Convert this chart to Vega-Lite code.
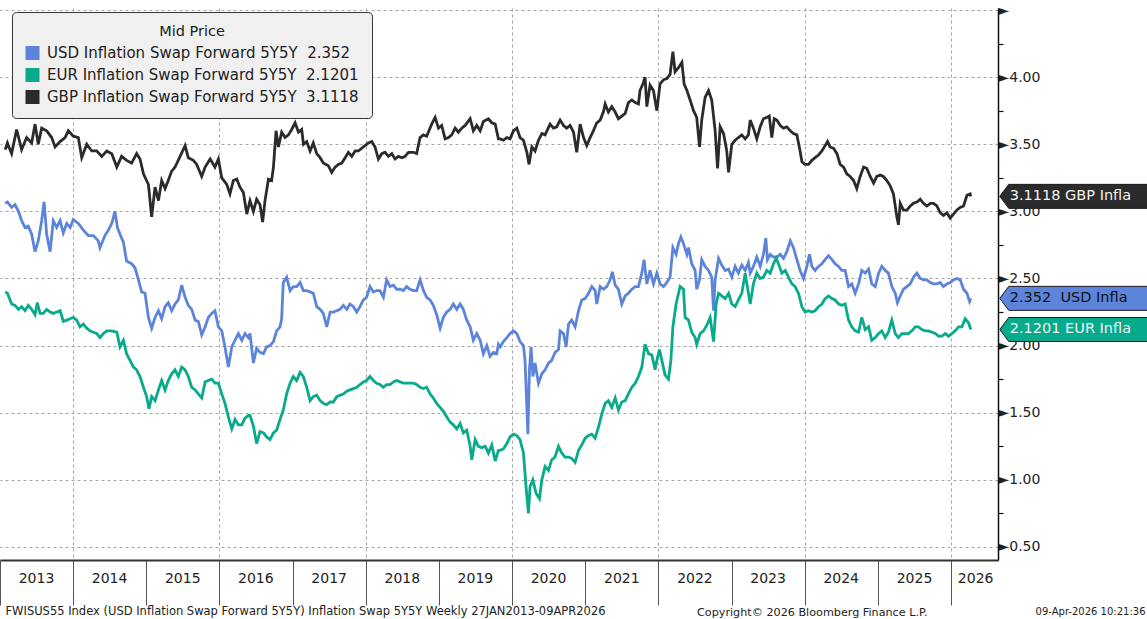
{
"$schema":"https://vega.github.io/schema/vega-lite/v6.json",
"width":998,"height":552,"autosize":"none",
"padding":{"left":0,"top":8,"right":149,"bottom":59},
"background":"white",
"config":{"font":"DejaVu Sans","view":{"stroke":null}},
"title":{"text":"Copyright© 2026 Bloomberg Finance L.P.","orient":"bottom","anchor":"start","frame":"group","dx":697,"dy":-10,"offset":0,"fontSize":11.2,"fontWeight":"normal","color":"#222"},
"data":{"format":{"parse":{"d":"date:'%Y-%j'"}},"values":[
{"d":"2013-027","s":"GBP","v":3.46},{"d":"2013-038","s":"GBP","v":3.51},{"d":"2013-059","s":"GBP","v":3.43},{"d":"2013-084","s":"GBP","v":3.61},{"d":"2013-109","s":"GBP","v":3.46},{"d":"2013-134","s":"GBP","v":3.55},{"d":"2013-159","s":"GBP","v":3.51},{"d":"2013-176","s":"GBP","v":3.65},{"d":"2013-192","s":"GBP","v":3.50},{"d":"2013-209","s":"GBP","v":3.62},{"d":"2013-234","s":"GBP","v":3.60},{"d":"2013-259","s":"GBP","v":3.55},{"d":"2013-276","s":"GBP","v":3.48},{"d":"2013-301","s":"GBP","v":3.52},{"d":"2013-326","s":"GBP","v":3.55},{"d":"2013-342","s":"GBP","v":3.60},
{"d":"2014-002","s":"GBP","v":3.56},{"d":"2014-027","s":"GBP","v":3.55},{"d":"2014-044","s":"GBP","v":3.40},{"d":"2014-069","s":"GBP","v":3.50},{"d":"2014-094","s":"GBP","v":3.45},{"d":"2014-119","s":"GBP","v":3.45},{"d":"2014-144","s":"GBP","v":3.41},{"d":"2014-169","s":"GBP","v":3.45},{"d":"2014-194","s":"GBP","v":3.43},{"d":"2014-219","s":"GBP","v":3.33},{"d":"2014-243","s":"GBP","v":3.41},{"d":"2014-268","s":"GBP","v":3.38},{"d":"2014-293","s":"GBP","v":3.36},{"d":"2014-318","s":"GBP","v":3.43},{"d":"2014-335","s":"GBP","v":3.39},{"d":"2014-352","s":"GBP","v":3.28},
{"d":"2015-012","s":"GBP","v":3.20},{"d":"2015-028","s":"GBP","v":2.96},{"d":"2015-045","s":"GBP","v":3.18},{"d":"2015-062","s":"GBP","v":3.08},{"d":"2015-078","s":"GBP","v":3.23},{"d":"2015-095","s":"GBP","v":3.17},{"d":"2015-111","s":"GBP","v":3.23},{"d":"2015-128","s":"GBP","v":3.30},{"d":"2015-145","s":"GBP","v":3.33},{"d":"2015-170","s":"GBP","v":3.41},{"d":"2015-195","s":"GBP","v":3.49},{"d":"2015-211","s":"GBP","v":3.40},{"d":"2015-236","s":"GBP","v":3.38},{"d":"2015-253","s":"GBP","v":3.35},{"d":"2015-278","s":"GBP","v":3.26},{"d":"2015-295","s":"GBP","v":3.33},{"d":"2015-320","s":"GBP","v":3.39},{"d":"2015-344","s":"GBP","v":3.33},{"d":"2015-361","s":"GBP","v":3.39},
{"d":"2016-013","s":"GBP","v":3.25},{"d":"2016-038","s":"GBP","v":3.20},{"d":"2016-054","s":"GBP","v":3.13},{"d":"2016-071","s":"GBP","v":3.23},{"d":"2016-088","s":"GBP","v":3.24},{"d":"2016-104","s":"GBP","v":3.18},{"d":"2016-121","s":"GBP","v":3.14},{"d":"2016-138","s":"GBP","v":2.98},{"d":"2016-154","s":"GBP","v":3.08},{"d":"2016-171","s":"GBP","v":3.00},{"d":"2016-187","s":"GBP","v":3.09},{"d":"2016-204","s":"GBP","v":3.05},{"d":"2016-217","s":"GBP","v":2.92},{"d":"2016-229","s":"GBP","v":3.08},{"d":"2016-246","s":"GBP","v":3.24},{"d":"2016-262","s":"GBP","v":3.23},{"d":"2016-271","s":"GBP","v":3.33},{"d":"2016-284","s":"GBP","v":3.60},{"d":"2016-296","s":"GBP","v":3.48},{"d":"2016-312","s":"GBP","v":3.59},{"d":"2016-329","s":"GBP","v":3.55},{"d":"2016-346","s":"GBP","v":3.57},{"d":"2016-362","s":"GBP","v":3.61},
{"d":"2017-013","s":"GBP","v":3.66},{"d":"2017-030","s":"GBP","v":3.59},{"d":"2017-046","s":"GBP","v":3.61},{"d":"2017-055","s":"GBP","v":3.50},{"d":"2017-071","s":"GBP","v":3.52},{"d":"2017-088","s":"GBP","v":3.45},{"d":"2017-104","s":"GBP","v":3.51},{"d":"2017-121","s":"GBP","v":3.43},{"d":"2017-138","s":"GBP","v":3.40},{"d":"2017-154","s":"GBP","v":3.36},{"d":"2017-179","s":"GBP","v":3.34},{"d":"2017-196","s":"GBP","v":3.29},{"d":"2017-213","s":"GBP","v":3.33},{"d":"2017-229","s":"GBP","v":3.35},{"d":"2017-246","s":"GBP","v":3.36},{"d":"2017-263","s":"GBP","v":3.40},{"d":"2017-279","s":"GBP","v":3.44},{"d":"2017-296","s":"GBP","v":3.41},{"d":"2017-313","s":"GBP","v":3.45},{"d":"2017-329","s":"GBP","v":3.45},{"d":"2017-354","s":"GBP","v":3.48},
{"d":"2018-014","s":"GBP","v":3.51},{"d":"2018-031","s":"GBP","v":3.52},{"d":"2018-047","s":"GBP","v":3.48},{"d":"2018-064","s":"GBP","v":3.39},{"d":"2018-081","s":"GBP","v":3.43},{"d":"2018-097","s":"GBP","v":3.44},{"d":"2018-114","s":"GBP","v":3.41},{"d":"2018-131","s":"GBP","v":3.43},{"d":"2018-147","s":"GBP","v":3.39},{"d":"2018-164","s":"GBP","v":3.41},{"d":"2018-181","s":"GBP","v":3.40},{"d":"2018-197","s":"GBP","v":3.41},{"d":"2018-214","s":"GBP","v":3.44},{"d":"2018-239","s":"GBP","v":3.44},{"d":"2018-255","s":"GBP","v":3.43},{"d":"2018-272","s":"GBP","v":3.55},{"d":"2018-289","s":"GBP","v":3.57},{"d":"2018-305","s":"GBP","v":3.56},{"d":"2018-330","s":"GBP","v":3.65},{"d":"2018-347","s":"GBP","v":3.70},{"d":"2018-364","s":"GBP","v":3.62},
{"d":"2019-015","s":"GBP","v":3.64},{"d":"2019-032","s":"GBP","v":3.54},{"d":"2019-049","s":"GBP","v":3.55},{"d":"2019-065","s":"GBP","v":3.57},{"d":"2019-082","s":"GBP","v":3.62},{"d":"2019-098","s":"GBP","v":3.59},{"d":"2019-115","s":"GBP","v":3.62},{"d":"2019-132","s":"GBP","v":3.64},{"d":"2019-157","s":"GBP","v":3.69},{"d":"2019-173","s":"GBP","v":3.60},{"d":"2019-190","s":"GBP","v":3.64},{"d":"2019-207","s":"GBP","v":3.60},{"d":"2019-223","s":"GBP","v":3.67},{"d":"2019-248","s":"GBP","v":3.69},{"d":"2019-265","s":"GBP","v":3.66},{"d":"2019-282","s":"GBP","v":3.65},{"d":"2019-298","s":"GBP","v":3.54},{"d":"2019-307","s":"GBP","v":3.54},{"d":"2019-323","s":"GBP","v":3.53},{"d":"2019-340","s":"GBP","v":3.55},{"d":"2019-356","s":"GBP","v":3.54},
{"d":"2020-008","s":"GBP","v":3.60},{"d":"2020-025","s":"GBP","v":3.62},{"d":"2020-041","s":"GBP","v":3.55},{"d":"2020-058","s":"GBP","v":3.53},{"d":"2020-075","s":"GBP","v":3.44},{"d":"2020-086","s":"GBP","v":3.35},{"d":"2020-100","s":"GBP","v":3.48},{"d":"2020-116","s":"GBP","v":3.45},{"d":"2020-133","s":"GBP","v":3.53},{"d":"2020-150","s":"GBP","v":3.58},{"d":"2020-166","s":"GBP","v":3.57},{"d":"2020-191","s":"GBP","v":3.65},{"d":"2020-208","s":"GBP","v":3.62},{"d":"2020-224","s":"GBP","v":3.63},{"d":"2020-241","s":"GBP","v":3.68},{"d":"2020-258","s":"GBP","v":3.64},{"d":"2020-274","s":"GBP","v":3.62},{"d":"2020-291","s":"GBP","v":3.64},{"d":"2020-308","s":"GBP","v":3.59},{"d":"2020-324","s":"GBP","v":3.44},{"d":"2020-341","s":"GBP","v":3.65},{"d":"2020-358","s":"GBP","v":3.55},
{"d":"2021-008","s":"GBP","v":3.49},{"d":"2021-025","s":"GBP","v":3.55},{"d":"2021-041","s":"GBP","v":3.60},{"d":"2021-058","s":"GBP","v":3.66},{"d":"2021-075","s":"GBP","v":3.68},{"d":"2021-091","s":"GBP","v":3.74},{"d":"2021-100","s":"GBP","v":3.80},{"d":"2021-116","s":"GBP","v":3.74},{"d":"2021-133","s":"GBP","v":3.78},{"d":"2021-150","s":"GBP","v":3.74},{"d":"2021-166","s":"GBP","v":3.69},{"d":"2021-183","s":"GBP","v":3.71},{"d":"2021-200","s":"GBP","v":3.73},{"d":"2021-216","s":"GBP","v":3.81},{"d":"2021-233","s":"GBP","v":3.83},{"d":"2021-250","s":"GBP","v":3.81},{"d":"2021-266","s":"GBP","v":3.80},{"d":"2021-274","s":"GBP","v":3.90},{"d":"2021-291","s":"GBP","v":3.96},{"d":"2021-299","s":"GBP","v":4.00},{"d":"2021-308","s":"GBP","v":3.78},{"d":"2021-324","s":"GBP","v":3.94},{"d":"2021-341","s":"GBP","v":3.90},{"d":"2021-358","s":"GBP","v":3.75},
{"d":"2022-009","s":"GBP","v":3.95},{"d":"2022-026","s":"GBP","v":3.98},{"d":"2022-043","s":"GBP","v":3.99},{"d":"2022-059","s":"GBP","v":4.02},{"d":"2022-073","s":"GBP","v":4.19},{"d":"2022-084","s":"GBP","v":4.04},{"d":"2022-101","s":"GBP","v":4.07},{"d":"2022-118","s":"GBP","v":4.11},{"d":"2022-129","s":"GBP","v":3.95},{"d":"2022-143","s":"GBP","v":3.90},{"d":"2022-159","s":"GBP","v":3.83},{"d":"2022-176","s":"GBP","v":3.75},{"d":"2022-192","s":"GBP","v":3.70},{"d":"2022-206","s":"GBP","v":3.48},{"d":"2022-217","s":"GBP","v":3.68},{"d":"2022-234","s":"GBP","v":3.85},{"d":"2022-251","s":"GBP","v":3.90},{"d":"2022-267","s":"GBP","v":3.83},{"d":"2022-284","s":"GBP","v":3.60},{"d":"2022-296","s":"GBP","v":3.32},{"d":"2022-309","s":"GBP","v":3.63},{"d":"2022-326","s":"GBP","v":3.58},{"d":"2022-342","s":"GBP","v":3.45},{"d":"2022-351","s":"GBP","v":3.29},
{"d":"2023-002","s":"GBP","v":3.50},{"d":"2023-019","s":"GBP","v":3.53},{"d":"2023-035","s":"GBP","v":3.55},{"d":"2023-052","s":"GBP","v":3.57},{"d":"2023-069","s":"GBP","v":3.54},{"d":"2023-085","s":"GBP","v":3.57},{"d":"2023-094","s":"GBP","v":3.68},{"d":"2023-110","s":"GBP","v":3.62},{"d":"2023-127","s":"GBP","v":3.54},{"d":"2023-144","s":"GBP","v":3.63},{"d":"2023-160","s":"GBP","v":3.69},{"d":"2023-177","s":"GBP","v":3.70},{"d":"2023-189","s":"GBP","v":3.71},{"d":"2023-202","s":"GBP","v":3.55},{"d":"2023-214","s":"GBP","v":3.69},{"d":"2023-227","s":"GBP","v":3.68},{"d":"2023-244","s":"GBP","v":3.64},{"d":"2023-260","s":"GBP","v":3.62},{"d":"2023-277","s":"GBP","v":3.63},{"d":"2023-294","s":"GBP","v":3.60},{"d":"2023-310","s":"GBP","v":3.58},{"d":"2023-327","s":"GBP","v":3.57},{"d":"2023-343","s":"GBP","v":3.45},{"d":"2023-352","s":"GBP","v":3.37},
{"d":"2024-003","s":"GBP","v":3.35},{"d":"2024-020","s":"GBP","v":3.35},{"d":"2024-037","s":"GBP","v":3.38},{"d":"2024-053","s":"GBP","v":3.40},{"d":"2024-070","s":"GBP","v":3.42},{"d":"2024-087","s":"GBP","v":3.45},{"d":"2024-103","s":"GBP","v":3.49},{"d":"2024-115","s":"GBP","v":3.52},{"d":"2024-128","s":"GBP","v":3.48},{"d":"2024-145","s":"GBP","v":3.47},{"d":"2024-162","s":"GBP","v":3.43},{"d":"2024-178","s":"GBP","v":3.35},{"d":"2024-195","s":"GBP","v":3.33},{"d":"2024-211","s":"GBP","v":3.28},{"d":"2024-228","s":"GBP","v":3.26},{"d":"2024-245","s":"GBP","v":3.23},{"d":"2024-261","s":"GBP","v":3.17},{"d":"2024-278","s":"GBP","v":3.26},{"d":"2024-295","s":"GBP","v":3.33},{"d":"2024-311","s":"GBP","v":3.32},{"d":"2024-328","s":"GBP","v":3.26},{"d":"2024-345","s":"GBP","v":3.21},{"d":"2024-361","s":"GBP","v":3.26},
{"d":"2025-012","s":"GBP","v":3.27},{"d":"2025-028","s":"GBP","v":3.26},{"d":"2025-045","s":"GBP","v":3.23},{"d":"2025-062","s":"GBP","v":3.19},{"d":"2025-078","s":"GBP","v":3.13},{"d":"2025-095","s":"GBP","v":2.96},{"d":"2025-103","s":"GBP","v":2.90},{"d":"2025-112","s":"GBP","v":3.06},{"d":"2025-128","s":"GBP","v":3.01},{"d":"2025-145","s":"GBP","v":3.01},{"d":"2025-162","s":"GBP","v":3.04},{"d":"2025-178","s":"GBP","v":3.06},{"d":"2025-195","s":"GBP","v":3.07},{"d":"2025-212","s":"GBP","v":3.09},{"d":"2025-228","s":"GBP","v":3.06},{"d":"2025-245","s":"GBP","v":3.04},{"d":"2025-262","s":"GBP","v":3.06},{"d":"2025-278","s":"GBP","v":3.06},{"d":"2025-295","s":"GBP","v":3.04},{"d":"2025-311","s":"GBP","v":2.99},{"d":"2025-328","s":"GBP","v":2.97},{"d":"2025-345","s":"GBP","v":2.99},{"d":"2025-361","s":"GBP","v":2.95},
{"d":"2026-013","s":"GBP","v":2.98},{"d":"2026-030","s":"GBP","v":3.01},{"d":"2026-046","s":"GBP","v":3.03},{"d":"2026-063","s":"GBP","v":3.04},{"d":"2026-080","s":"GBP","v":3.12},{"d":"2026-096","s":"GBP","v":3.13},{"d":"2026-099","s":"GBP","v":3.1118,"lbl":"3.1118 GBP Infla"},

{"d":"2013-027","s":"USD","v":3.06},{"d":"2013-038","s":"USD","v":3.07},{"d":"2013-059","s":"USD","v":3.03},{"d":"2013-076","s":"USD","v":3.05},{"d":"2013-093","s":"USD","v":3.00},{"d":"2013-109","s":"USD","v":2.93},{"d":"2013-126","s":"USD","v":2.88},{"d":"2013-142","s":"USD","v":2.89},{"d":"2013-159","s":"USD","v":2.83},{"d":"2013-176","s":"USD","v":2.70},{"d":"2013-192","s":"USD","v":2.78},{"d":"2013-209","s":"USD","v":2.93},{"d":"2013-221","s":"USD","v":3.07},{"d":"2013-234","s":"USD","v":2.83},{"d":"2013-251","s":"USD","v":2.70},{"d":"2013-267","s":"USD","v":2.93},{"d":"2013-284","s":"USD","v":2.88},{"d":"2013-301","s":"USD","v":2.93},{"d":"2013-317","s":"USD","v":2.84},{"d":"2013-334","s":"USD","v":2.91},{"d":"2013-351","s":"USD","v":2.88},
{"d":"2014-002","s":"USD","v":2.94},{"d":"2014-027","s":"USD","v":2.91},{"d":"2014-052","s":"USD","v":2.86},{"d":"2014-077","s":"USD","v":2.82},{"d":"2014-102","s":"USD","v":2.82},{"d":"2014-127","s":"USD","v":2.78},{"d":"2014-135","s":"USD","v":2.73},{"d":"2014-160","s":"USD","v":2.82},{"d":"2014-177","s":"USD","v":2.86},{"d":"2014-194","s":"USD","v":2.91},{"d":"2014-210","s":"USD","v":3.00},{"d":"2014-222","s":"USD","v":2.88},{"d":"2014-235","s":"USD","v":2.83},{"d":"2014-252","s":"USD","v":2.77},{"d":"2014-268","s":"USD","v":2.63},{"d":"2014-293","s":"USD","v":2.61},{"d":"2014-310","s":"USD","v":2.58},{"d":"2014-327","s":"USD","v":2.49},{"d":"2014-343","s":"USD","v":2.40},{"d":"2014-360","s":"USD","v":2.39},
{"d":"2015-012","s":"USD","v":2.21},{"d":"2015-028","s":"USD","v":2.13},{"d":"2015-045","s":"USD","v":2.21},{"d":"2015-062","s":"USD","v":2.26},{"d":"2015-078","s":"USD","v":2.20},{"d":"2015-095","s":"USD","v":2.29},{"d":"2015-111","s":"USD","v":2.32},{"d":"2015-128","s":"USD","v":2.26},{"d":"2015-145","s":"USD","v":2.31},{"d":"2015-161","s":"USD","v":2.34},{"d":"2015-178","s":"USD","v":2.45},{"d":"2015-195","s":"USD","v":2.36},{"d":"2015-211","s":"USD","v":2.30},{"d":"2015-228","s":"USD","v":2.27},{"d":"2015-245","s":"USD","v":2.19},{"d":"2015-261","s":"USD","v":2.18},{"d":"2015-278","s":"USD","v":2.08},{"d":"2015-295","s":"USD","v":2.14},{"d":"2015-311","s":"USD","v":2.21},{"d":"2015-328","s":"USD","v":2.24},{"d":"2015-344","s":"USD","v":2.26},{"d":"2015-361","s":"USD","v":2.14},
{"d":"2016-013","s":"USD","v":2.11},{"d":"2016-029","s":"USD","v":1.99},{"d":"2016-046","s":"USD","v":1.84},{"d":"2016-063","s":"USD","v":1.99},{"d":"2016-079","s":"USD","v":2.04},{"d":"2016-096","s":"USD","v":2.09},{"d":"2016-113","s":"USD","v":2.04},{"d":"2016-129","s":"USD","v":2.09},{"d":"2016-146","s":"USD","v":2.06},{"d":"2016-154","s":"USD","v":2.09},{"d":"2016-171","s":"USD","v":1.87},{"d":"2016-187","s":"USD","v":1.98},{"d":"2016-204","s":"USD","v":1.95},{"d":"2016-221","s":"USD","v":1.94},{"d":"2016-237","s":"USD","v":1.99},{"d":"2016-254","s":"USD","v":2.00},{"d":"2016-271","s":"USD","v":2.03},{"d":"2016-287","s":"USD","v":2.11},{"d":"2016-304","s":"USD","v":2.14},{"d":"2016-312","s":"USD","v":2.20},{"d":"2016-320","s":"USD","v":2.47},{"d":"2016-337","s":"USD","v":2.51},{"d":"2016-354","s":"USD","v":2.41},
{"d":"2017-004","s":"USD","v":2.44},{"d":"2017-021","s":"USD","v":2.44},{"d":"2017-038","s":"USD","v":2.47},{"d":"2017-054","s":"USD","v":2.41},{"d":"2017-071","s":"USD","v":2.41},{"d":"2017-088","s":"USD","v":2.40},{"d":"2017-104","s":"USD","v":2.39},{"d":"2017-121","s":"USD","v":2.29},{"d":"2017-138","s":"USD","v":2.27},{"d":"2017-154","s":"USD","v":2.24},{"d":"2017-171","s":"USD","v":2.14},{"d":"2017-188","s":"USD","v":2.25},{"d":"2017-204","s":"USD","v":2.25},{"d":"2017-221","s":"USD","v":2.26},{"d":"2017-237","s":"USD","v":2.27},{"d":"2017-254","s":"USD","v":2.30},{"d":"2017-271","s":"USD","v":2.27},{"d":"2017-287","s":"USD","v":2.31},{"d":"2017-304","s":"USD","v":2.29},{"d":"2017-321","s":"USD","v":2.25},{"d":"2017-337","s":"USD","v":2.29},{"d":"2017-354","s":"USD","v":2.34},
{"d":"2018-005","s":"USD","v":2.36},{"d":"2018-022","s":"USD","v":2.44},{"d":"2018-039","s":"USD","v":2.40},{"d":"2018-055","s":"USD","v":2.41},{"d":"2018-072","s":"USD","v":2.41},{"d":"2018-089","s":"USD","v":2.36},{"d":"2018-105","s":"USD","v":2.49},{"d":"2018-122","s":"USD","v":2.44},{"d":"2018-139","s":"USD","v":2.45},{"d":"2018-155","s":"USD","v":2.42},{"d":"2018-172","s":"USD","v":2.42},{"d":"2018-189","s":"USD","v":2.41},{"d":"2018-205","s":"USD","v":2.44},{"d":"2018-222","s":"USD","v":2.42},{"d":"2018-239","s":"USD","v":2.41},{"d":"2018-255","s":"USD","v":2.41},{"d":"2018-272","s":"USD","v":2.49},{"d":"2018-289","s":"USD","v":2.41},{"d":"2018-305","s":"USD","v":2.36},{"d":"2018-322","s":"USD","v":2.34},{"d":"2018-338","s":"USD","v":2.30},{"d":"2018-355","s":"USD","v":2.23},
{"d":"2019-007","s":"USD","v":2.13},{"d":"2019-023","s":"USD","v":2.21},{"d":"2019-040","s":"USD","v":2.25},{"d":"2019-057","s":"USD","v":2.27},{"d":"2019-073","s":"USD","v":2.31},{"d":"2019-090","s":"USD","v":2.27},{"d":"2019-107","s":"USD","v":2.31},{"d":"2019-123","s":"USD","v":2.27},{"d":"2019-140","s":"USD","v":2.19},{"d":"2019-157","s":"USD","v":2.14},{"d":"2019-173","s":"USD","v":2.04},{"d":"2019-190","s":"USD","v":2.09},{"d":"2019-207","s":"USD","v":2.04},{"d":"2019-223","s":"USD","v":1.94},{"d":"2019-240","s":"USD","v":2.00},{"d":"2019-256","s":"USD","v":1.92},{"d":"2019-273","s":"USD","v":1.95},{"d":"2019-290","s":"USD","v":1.94},{"d":"2019-298","s":"USD","v":2.01},{"d":"2019-307","s":"USD","v":1.99},{"d":"2019-323","s":"USD","v":2.03},{"d":"2019-340","s":"USD","v":2.06},{"d":"2019-356","s":"USD","v":2.09},
{"d":"2020-008","s":"USD","v":2.11},{"d":"2020-025","s":"USD","v":2.09},{"d":"2020-041","s":"USD","v":2.03},{"d":"2020-058","s":"USD","v":2.00},{"d":"2020-066","s":"USD","v":1.89},{"d":"2020-075","s":"USD","v":1.54},{"d":"2020-080","s":"USD","v":1.34},{"d":"2020-088","s":"USD","v":1.82},{"d":"2020-096","s":"USD","v":1.99},{"d":"2020-105","s":"USD","v":1.77},{"d":"2020-116","s":"USD","v":1.87},{"d":"2020-133","s":"USD","v":1.72},{"d":"2020-150","s":"USD","v":1.79},{"d":"2020-166","s":"USD","v":1.82},{"d":"2020-183","s":"USD","v":1.87},{"d":"2020-199","s":"USD","v":1.89},{"d":"2020-216","s":"USD","v":1.95},{"d":"2020-233","s":"USD","v":1.97},{"d":"2020-241","s":"USD","v":2.11},{"d":"2020-258","s":"USD","v":2.09},{"d":"2020-271","s":"USD","v":1.99},{"d":"2020-283","s":"USD","v":2.16},{"d":"2020-299","s":"USD","v":2.19},{"d":"2020-316","s":"USD","v":2.14},{"d":"2020-333","s":"USD","v":2.26},{"d":"2020-349","s":"USD","v":2.34},{"d":"2020-366","s":"USD","v":2.35},
{"d":"2021-017","s":"USD","v":2.39},{"d":"2021-033","s":"USD","v":2.44},{"d":"2021-050","s":"USD","v":2.41},{"d":"2021-058","s":"USD","v":2.31},{"d":"2021-075","s":"USD","v":2.44},{"d":"2021-091","s":"USD","v":2.42},{"d":"2021-108","s":"USD","v":2.44},{"d":"2021-125","s":"USD","v":2.49},{"d":"2021-136","s":"USD","v":2.55},{"d":"2021-150","s":"USD","v":2.45},{"d":"2021-166","s":"USD","v":2.42},{"d":"2021-183","s":"USD","v":2.31},{"d":"2021-200","s":"USD","v":2.37},{"d":"2021-216","s":"USD","v":2.39},{"d":"2021-233","s":"USD","v":2.42},{"d":"2021-250","s":"USD","v":2.44},{"d":"2021-266","s":"USD","v":2.44},{"d":"2021-283","s":"USD","v":2.54},{"d":"2021-294","s":"USD","v":2.64},{"d":"2021-308","s":"USD","v":2.46},{"d":"2021-324","s":"USD","v":2.56},{"d":"2021-341","s":"USD","v":2.46},{"d":"2021-358","s":"USD","v":2.54},
{"d":"2022-009","s":"USD","v":2.46},{"d":"2022-026","s":"USD","v":2.44},{"d":"2022-043","s":"USD","v":2.47},{"d":"2022-059","s":"USD","v":2.51},{"d":"2022-073","s":"USD","v":2.73},{"d":"2022-089","s":"USD","v":2.68},{"d":"2022-101","s":"USD","v":2.76},{"d":"2022-113","s":"USD","v":2.81},{"d":"2022-126","s":"USD","v":2.76},{"d":"2022-143","s":"USD","v":2.68},{"d":"2022-151","s":"USD","v":2.73},{"d":"2022-167","s":"USD","v":2.61},{"d":"2022-184","s":"USD","v":2.56},{"d":"2022-192","s":"USD","v":2.42},{"d":"2022-206","s":"USD","v":2.49},{"d":"2022-217","s":"USD","v":2.64},{"d":"2022-234","s":"USD","v":2.59},{"d":"2022-251","s":"USD","v":2.56},{"d":"2022-267","s":"USD","v":2.51},{"d":"2022-276","s":"USD","v":2.26},{"d":"2022-284","s":"USD","v":2.49},{"d":"2022-301","s":"USD","v":2.65},{"d":"2022-317","s":"USD","v":2.60},{"d":"2022-334","s":"USD","v":2.56},{"d":"2022-351","s":"USD","v":2.57},
{"d":"2023-002","s":"USD","v":2.51},{"d":"2023-019","s":"USD","v":2.59},{"d":"2023-035","s":"USD","v":2.54},{"d":"2023-052","s":"USD","v":2.60},{"d":"2023-069","s":"USD","v":2.56},{"d":"2023-085","s":"USD","v":2.62},{"d":"2023-094","s":"USD","v":2.54},{"d":"2023-110","s":"USD","v":2.59},{"d":"2023-127","s":"USD","v":2.66},{"d":"2023-144","s":"USD","v":2.59},{"d":"2023-160","s":"USD","v":2.68},{"d":"2023-172","s":"USD","v":2.80},{"d":"2023-180","s":"USD","v":2.64},{"d":"2023-194","s":"USD","v":2.68},{"d":"2023-210","s":"USD","v":2.66},{"d":"2023-227","s":"USD","v":2.66},{"d":"2023-244","s":"USD","v":2.68},{"d":"2023-260","s":"USD","v":2.65},{"d":"2023-277","s":"USD","v":2.70},{"d":"2023-294","s":"USD","v":2.78},{"d":"2023-310","s":"USD","v":2.73},{"d":"2023-327","s":"USD","v":2.64},{"d":"2023-343","s":"USD","v":2.56},{"d":"2023-360","s":"USD","v":2.50},
{"d":"2024-012","s":"USD","v":2.59},{"d":"2024-025","s":"USD","v":2.68},{"d":"2024-037","s":"USD","v":2.59},{"d":"2024-053","s":"USD","v":2.56},{"d":"2024-070","s":"USD","v":2.59},{"d":"2024-087","s":"USD","v":2.61},{"d":"2024-103","s":"USD","v":2.64},{"d":"2024-120","s":"USD","v":2.67},{"d":"2024-137","s":"USD","v":2.64},{"d":"2024-153","s":"USD","v":2.61},{"d":"2024-170","s":"USD","v":2.59},{"d":"2024-186","s":"USD","v":2.56},{"d":"2024-203","s":"USD","v":2.56},{"d":"2024-220","s":"USD","v":2.44},{"d":"2024-236","s":"USD","v":2.46},{"d":"2024-253","s":"USD","v":2.39},{"d":"2024-270","s":"USD","v":2.46},{"d":"2024-286","s":"USD","v":2.56},{"d":"2024-303","s":"USD","v":2.54},{"d":"2024-320","s":"USD","v":2.57},{"d":"2024-336","s":"USD","v":2.46},{"d":"2024-353","s":"USD","v":2.44},
{"d":"2025-004","s":"USD","v":2.54},{"d":"2025-020","s":"USD","v":2.59},{"d":"2025-037","s":"USD","v":2.56},{"d":"2025-053","s":"USD","v":2.54},{"d":"2025-070","s":"USD","v":2.44},{"d":"2025-087","s":"USD","v":2.39},{"d":"2025-098","s":"USD","v":2.32},{"d":"2025-112","s":"USD","v":2.37},{"d":"2025-128","s":"USD","v":2.42},{"d":"2025-145","s":"USD","v":2.44},{"d":"2025-162","s":"USD","v":2.46},{"d":"2025-178","s":"USD","v":2.51},{"d":"2025-195","s":"USD","v":2.54},{"d":"2025-212","s":"USD","v":2.50},{"d":"2025-228","s":"USD","v":2.49},{"d":"2025-245","s":"USD","v":2.49},{"d":"2025-262","s":"USD","v":2.47},{"d":"2025-278","s":"USD","v":2.46},{"d":"2025-295","s":"USD","v":2.46},{"d":"2025-311","s":"USD","v":2.47},{"d":"2025-328","s":"USD","v":2.44},{"d":"2025-345","s":"USD","v":2.46},{"d":"2025-361","s":"USD","v":2.47},
{"d":"2026-013","s":"USD","v":2.49},{"d":"2026-030","s":"USD","v":2.50},{"d":"2026-046","s":"USD","v":2.49},{"d":"2026-063","s":"USD","v":2.42},{"d":"2026-080","s":"USD","v":2.39},{"d":"2026-093","s":"USD","v":2.33},{"d":"2026-099","s":"USD","v":2.352,"lbl":"2.352\u00a0\u00a0USD Infla"},

{"d":"2013-027","s":"EUR","v":2.40},{"d":"2013-038","s":"EUR","v":2.39},{"d":"2013-059","s":"EUR","v":2.31},{"d":"2013-076","s":"EUR","v":2.30},{"d":"2013-093","s":"EUR","v":2.27},{"d":"2013-109","s":"EUR","v":2.29},{"d":"2013-126","s":"EUR","v":2.26},{"d":"2013-142","s":"EUR","v":2.30},{"d":"2013-159","s":"EUR","v":2.27},{"d":"2013-176","s":"EUR","v":2.23},{"d":"2013-187","s":"EUR","v":2.32},{"d":"2013-201","s":"EUR","v":2.24},{"d":"2013-217","s":"EUR","v":2.24},{"d":"2013-234","s":"EUR","v":2.27},{"d":"2013-251","s":"EUR","v":2.25},{"d":"2013-267","s":"EUR","v":2.24},{"d":"2013-284","s":"EUR","v":2.25},{"d":"2013-301","s":"EUR","v":2.26},{"d":"2013-317","s":"EUR","v":2.18},{"d":"2013-334","s":"EUR","v":2.19},{"d":"2013-351","s":"EUR","v":2.20},
{"d":"2014-002","s":"EUR","v":2.21},{"d":"2014-019","s":"EUR","v":2.19},{"d":"2014-035","s":"EUR","v":2.14},{"d":"2014-052","s":"EUR","v":2.16},{"d":"2014-069","s":"EUR","v":2.13},{"d":"2014-085","s":"EUR","v":2.11},{"d":"2014-102","s":"EUR","v":2.10},{"d":"2014-119","s":"EUR","v":2.09},{"d":"2014-135","s":"EUR","v":2.06},{"d":"2014-152","s":"EUR","v":2.09},{"d":"2014-169","s":"EUR","v":2.11},{"d":"2014-194","s":"EUR","v":2.11},{"d":"2014-219","s":"EUR","v":2.10},{"d":"2014-235","s":"EUR","v":1.99},{"d":"2014-252","s":"EUR","v":2.04},{"d":"2014-268","s":"EUR","v":1.94},{"d":"2014-285","s":"EUR","v":1.89},{"d":"2014-302","s":"EUR","v":1.84},{"d":"2014-318","s":"EUR","v":1.82},{"d":"2014-335","s":"EUR","v":1.77},{"d":"2014-352","s":"EUR","v":1.69},
{"d":"2015-003","s":"EUR","v":1.62},{"d":"2015-015","s":"EUR","v":1.53},{"d":"2015-028","s":"EUR","v":1.62},{"d":"2015-045","s":"EUR","v":1.59},{"d":"2015-062","s":"EUR","v":1.67},{"d":"2015-078","s":"EUR","v":1.74},{"d":"2015-095","s":"EUR","v":1.67},{"d":"2015-111","s":"EUR","v":1.74},{"d":"2015-128","s":"EUR","v":1.79},{"d":"2015-145","s":"EUR","v":1.82},{"d":"2015-161","s":"EUR","v":1.77},{"d":"2015-178","s":"EUR","v":1.84},{"d":"2015-195","s":"EUR","v":1.82},{"d":"2015-211","s":"EUR","v":1.77},{"d":"2015-228","s":"EUR","v":1.69},{"d":"2015-245","s":"EUR","v":1.67},{"d":"2015-261","s":"EUR","v":1.64},{"d":"2015-278","s":"EUR","v":1.61},{"d":"2015-295","s":"EUR","v":1.73},{"d":"2015-311","s":"EUR","v":1.74},{"d":"2015-328","s":"EUR","v":1.75},{"d":"2015-344","s":"EUR","v":1.72},{"d":"2015-361","s":"EUR","v":1.72},
{"d":"2016-013","s":"EUR","v":1.64},{"d":"2016-029","s":"EUR","v":1.57},{"d":"2016-046","s":"EUR","v":1.47},{"d":"2016-063","s":"EUR","v":1.38},{"d":"2016-079","s":"EUR","v":1.45},{"d":"2016-096","s":"EUR","v":1.41},{"d":"2016-113","s":"EUR","v":1.41},{"d":"2016-129","s":"EUR","v":1.46},{"d":"2016-146","s":"EUR","v":1.48},{"d":"2016-154","s":"EUR","v":1.48},{"d":"2016-171","s":"EUR","v":1.40},{"d":"2016-187","s":"EUR","v":1.27},{"d":"2016-204","s":"EUR","v":1.36},{"d":"2016-221","s":"EUR","v":1.35},{"d":"2016-237","s":"EUR","v":1.32},{"d":"2016-254","s":"EUR","v":1.30},{"d":"2016-271","s":"EUR","v":1.35},{"d":"2016-287","s":"EUR","v":1.37},{"d":"2016-304","s":"EUR","v":1.45},{"d":"2016-320","s":"EUR","v":1.52},{"d":"2016-337","s":"EUR","v":1.64},{"d":"2016-354","s":"EUR","v":1.72},
{"d":"2017-004","s":"EUR","v":1.77},{"d":"2017-021","s":"EUR","v":1.74},{"d":"2017-038","s":"EUR","v":1.80},{"d":"2017-054","s":"EUR","v":1.77},{"d":"2017-071","s":"EUR","v":1.69},{"d":"2017-088","s":"EUR","v":1.59},{"d":"2017-104","s":"EUR","v":1.62},{"d":"2017-121","s":"EUR","v":1.63},{"d":"2017-138","s":"EUR","v":1.59},{"d":"2017-154","s":"EUR","v":1.57},{"d":"2017-171","s":"EUR","v":1.56},{"d":"2017-188","s":"EUR","v":1.58},{"d":"2017-204","s":"EUR","v":1.58},{"d":"2017-221","s":"EUR","v":1.62},{"d":"2017-237","s":"EUR","v":1.63},{"d":"2017-254","s":"EUR","v":1.64},{"d":"2017-271","s":"EUR","v":1.66},{"d":"2017-287","s":"EUR","v":1.67},{"d":"2017-304","s":"EUR","v":1.68},{"d":"2017-321","s":"EUR","v":1.69},{"d":"2017-337","s":"EUR","v":1.71},{"d":"2017-354","s":"EUR","v":1.73},
{"d":"2018-005","s":"EUR","v":1.74},{"d":"2018-022","s":"EUR","v":1.77},{"d":"2018-039","s":"EUR","v":1.74},{"d":"2018-055","s":"EUR","v":1.72},{"d":"2018-072","s":"EUR","v":1.71},{"d":"2018-089","s":"EUR","v":1.69},{"d":"2018-105","s":"EUR","v":1.71},{"d":"2018-122","s":"EUR","v":1.71},{"d":"2018-139","s":"EUR","v":1.73},{"d":"2018-155","s":"EUR","v":1.74},{"d":"2018-172","s":"EUR","v":1.73},{"d":"2018-189","s":"EUR","v":1.72},{"d":"2018-205","s":"EUR","v":1.72},{"d":"2018-222","s":"EUR","v":1.72},{"d":"2018-239","s":"EUR","v":1.72},{"d":"2018-255","s":"EUR","v":1.71},{"d":"2018-272","s":"EUR","v":1.69},{"d":"2018-289","s":"EUR","v":1.68},{"d":"2018-305","s":"EUR","v":1.69},{"d":"2018-322","s":"EUR","v":1.64},{"d":"2018-338","s":"EUR","v":1.61},{"d":"2018-355","s":"EUR","v":1.57},
{"d":"2019-007","s":"EUR","v":1.54},{"d":"2019-023","s":"EUR","v":1.51},{"d":"2019-040","s":"EUR","v":1.47},{"d":"2019-057","s":"EUR","v":1.43},{"d":"2019-073","s":"EUR","v":1.41},{"d":"2019-090","s":"EUR","v":1.38},{"d":"2019-107","s":"EUR","v":1.42},{"d":"2019-123","s":"EUR","v":1.35},{"d":"2019-140","s":"EUR","v":1.37},{"d":"2019-157","s":"EUR","v":1.25},{"d":"2019-165","s":"EUR","v":1.15},{"d":"2019-182","s":"EUR","v":1.30},{"d":"2019-198","s":"EUR","v":1.25},{"d":"2019-215","s":"EUR","v":1.24},{"d":"2019-232","s":"EUR","v":1.25},{"d":"2019-248","s":"EUR","v":1.20},{"d":"2019-265","s":"EUR","v":1.26},{"d":"2019-282","s":"EUR","v":1.14},{"d":"2019-298","s":"EUR","v":1.22},{"d":"2019-307","s":"EUR","v":1.22},{"d":"2019-323","s":"EUR","v":1.23},{"d":"2019-340","s":"EUR","v":1.27},{"d":"2019-356","s":"EUR","v":1.32},
{"d":"2020-008","s":"EUR","v":1.34},{"d":"2020-025","s":"EUR","v":1.33},{"d":"2020-041","s":"EUR","v":1.30},{"d":"2020-058","s":"EUR","v":1.20},{"d":"2020-071","s":"EUR","v":0.95},{"d":"2020-083","s":"EUR","v":0.75},{"d":"2020-091","s":"EUR","v":0.95},{"d":"2020-105","s":"EUR","v":1.00},{"d":"2020-121","s":"EUR","v":0.90},{"d":"2020-138","s":"EUR","v":0.86},{"d":"2020-150","s":"EUR","v":1.00},{"d":"2020-166","s":"EUR","v":1.10},{"d":"2020-183","s":"EUR","v":1.07},{"d":"2020-199","s":"EUR","v":1.15},{"d":"2020-216","s":"EUR","v":1.17},{"d":"2020-233","s":"EUR","v":1.25},{"d":"2020-249","s":"EUR","v":1.20},{"d":"2020-266","s":"EUR","v":1.17},{"d":"2020-283","s":"EUR","v":1.17},{"d":"2020-299","s":"EUR","v":1.16},{"d":"2020-316","s":"EUR","v":1.13},{"d":"2020-333","s":"EUR","v":1.22},{"d":"2020-349","s":"EUR","v":1.26},{"d":"2020-366","s":"EUR","v":1.31},
{"d":"2021-017","s":"EUR","v":1.33},{"d":"2021-033","s":"EUR","v":1.34},{"d":"2021-050","s":"EUR","v":1.31},{"d":"2021-066","s":"EUR","v":1.39},{"d":"2021-083","s":"EUR","v":1.49},{"d":"2021-100","s":"EUR","v":1.57},{"d":"2021-116","s":"EUR","v":1.59},{"d":"2021-133","s":"EUR","v":1.54},{"d":"2021-150","s":"EUR","v":1.61},{"d":"2021-166","s":"EUR","v":1.52},{"d":"2021-183","s":"EUR","v":1.58},{"d":"2021-200","s":"EUR","v":1.59},{"d":"2021-216","s":"EUR","v":1.64},{"d":"2021-233","s":"EUR","v":1.69},{"d":"2021-250","s":"EUR","v":1.72},{"d":"2021-266","s":"EUR","v":1.77},{"d":"2021-283","s":"EUR","v":1.84},{"d":"2021-299","s":"EUR","v":2.01},{"d":"2021-316","s":"EUR","v":1.94},{"d":"2021-333","s":"EUR","v":1.93},{"d":"2021-349","s":"EUR","v":1.82},{"d":"2021-358","s":"EUR","v":1.89},
{"d":"2022-006","s":"EUR","v":1.97},{"d":"2022-018","s":"EUR","v":1.89},{"d":"2022-034","s":"EUR","v":1.78},{"d":"2022-051","s":"EUR","v":1.75},{"d":"2022-063","s":"EUR","v":1.89},{"d":"2022-073","s":"EUR","v":2.14},{"d":"2022-089","s":"EUR","v":2.31},{"d":"2022-109","s":"EUR","v":2.44},{"d":"2022-126","s":"EUR","v":2.42},{"d":"2022-134","s":"EUR","v":2.21},{"d":"2022-151","s":"EUR","v":2.19},{"d":"2022-167","s":"EUR","v":2.10},{"d":"2022-184","s":"EUR","v":2.06},{"d":"2022-192","s":"EUR","v":2.01},{"d":"2022-209","s":"EUR","v":2.09},{"d":"2022-226","s":"EUR","v":2.11},{"d":"2022-242","s":"EUR","v":2.15},{"d":"2022-259","s":"EUR","v":2.21},{"d":"2022-276","s":"EUR","v":2.03},{"d":"2022-289","s":"EUR","v":2.31},{"d":"2022-301","s":"EUR","v":2.39},{"d":"2022-317","s":"EUR","v":2.37},{"d":"2022-334","s":"EUR","v":2.35},{"d":"2022-351","s":"EUR","v":2.39},
{"d":"2023-002","s":"EUR","v":2.31},{"d":"2023-019","s":"EUR","v":2.29},{"d":"2023-035","s":"EUR","v":2.34},{"d":"2023-052","s":"EUR","v":2.39},{"d":"2023-069","s":"EUR","v":2.54},{"d":"2023-085","s":"EUR","v":2.39},{"d":"2023-094","s":"EUR","v":2.31},{"d":"2023-110","s":"EUR","v":2.46},{"d":"2023-127","s":"EUR","v":2.54},{"d":"2023-144","s":"EUR","v":2.50},{"d":"2023-160","s":"EUR","v":2.51},{"d":"2023-177","s":"EUR","v":2.56},{"d":"2023-194","s":"EUR","v":2.54},{"d":"2023-210","s":"EUR","v":2.61},{"d":"2023-224","s":"EUR","v":2.65},{"d":"2023-235","s":"EUR","v":2.61},{"d":"2023-252","s":"EUR","v":2.54},{"d":"2023-269","s":"EUR","v":2.56},{"d":"2023-285","s":"EUR","v":2.51},{"d":"2023-302","s":"EUR","v":2.46},{"d":"2023-318","s":"EUR","v":2.44},{"d":"2023-335","s":"EUR","v":2.39},{"d":"2023-352","s":"EUR","v":2.29},
{"d":"2024-003","s":"EUR","v":2.25},{"d":"2024-020","s":"EUR","v":2.26},{"d":"2024-037","s":"EUR","v":2.25},{"d":"2024-053","s":"EUR","v":2.26},{"d":"2024-070","s":"EUR","v":2.29},{"d":"2024-087","s":"EUR","v":2.31},{"d":"2024-103","s":"EUR","v":2.35},{"d":"2024-120","s":"EUR","v":2.37},{"d":"2024-137","s":"EUR","v":2.35},{"d":"2024-153","s":"EUR","v":2.34},{"d":"2024-170","s":"EUR","v":2.31},{"d":"2024-186","s":"EUR","v":2.30},{"d":"2024-203","s":"EUR","v":2.31},{"d":"2024-220","s":"EUR","v":2.19},{"d":"2024-236","s":"EUR","v":2.14},{"d":"2024-253","s":"EUR","v":2.11},{"d":"2024-270","s":"EUR","v":2.10},{"d":"2024-286","s":"EUR","v":2.21},{"d":"2024-303","s":"EUR","v":2.12},{"d":"2024-320","s":"EUR","v":2.14},{"d":"2024-336","s":"EUR","v":2.04},{"d":"2024-353","s":"EUR","v":2.06},
{"d":"2025-004","s":"EUR","v":2.09},{"d":"2025-020","s":"EUR","v":2.11},{"d":"2025-037","s":"EUR","v":2.06},{"d":"2025-053","s":"EUR","v":2.10},{"d":"2025-070","s":"EUR","v":2.19},{"d":"2025-087","s":"EUR","v":2.09},{"d":"2025-103","s":"EUR","v":2.06},{"d":"2025-120","s":"EUR","v":2.09},{"d":"2025-137","s":"EUR","v":2.09},{"d":"2025-153","s":"EUR","v":2.09},{"d":"2025-170","s":"EUR","v":2.11},{"d":"2025-187","s":"EUR","v":2.14},{"d":"2025-203","s":"EUR","v":2.14},{"d":"2025-220","s":"EUR","v":2.12},{"d":"2025-237","s":"EUR","v":2.11},{"d":"2025-253","s":"EUR","v":2.11},{"d":"2025-270","s":"EUR","v":2.10},{"d":"2025-287","s":"EUR","v":2.09},{"d":"2025-303","s":"EUR","v":2.07},{"d":"2025-320","s":"EUR","v":2.07},{"d":"2025-336","s":"EUR","v":2.09},{"d":"2025-353","s":"EUR","v":2.07},
{"d":"2026-005","s":"EUR","v":2.09},{"d":"2026-021","s":"EUR","v":2.11},{"d":"2026-038","s":"EUR","v":2.14},{"d":"2026-055","s":"EUR","v":2.14},{"d":"2026-071","s":"EUR","v":2.20},{"d":"2026-088","s":"EUR","v":2.17},{"d":"2026-099","s":"EUR","v":2.1201,"lbl":"2.1201 EUR Infla"}
]},
"encoding":{
"x":{"field":"d","type":"temporal","scale":{"domain":[{"year":2013,"month":1,"date":1},{"year":2026,"month":8,"date":23}]},
"axis":{"orient":"bottom","format":"%Y","tickCount":{"interval":"year","step":1},"domainColor":"#333","domainWidth":2,"tickColor":"#555","tickSize":45,"tickWidth":1,
"labelFontSize":14,"labelColor":"#222","labelPadding":-34,"labelBaseline":"top","labelAlign":"center","labelFlush":false,"labelOverlap":false,"labelBound":false,
"labelOffset":{"condition":{"test":"year(datum.value)==2026","value":24},"value":36},
"grid":true,"gridColor":"#a6a6a6","gridDash":[3,3],"gridWidth":1,"gridOpacity":{"condition":{"test":"year(datum.value)%2==0","value":1},"value":0},
"title":"FWISUS55 Index (USD Inflation Swap Forward 5Y5Y) Inflation Swap 5Y5Y Weekly 27JAN2013-09APR2026","titleX":5,"titleY":51,"titleAlign":"left","titleAnchor":"start","titleBaseline":"middle","titleFontSize":11.5,"titleFontWeight":"normal","titleColor":"#222"}},
"y":{"field":"v","type":"quantitative","scale":{"domain":[0.403,4.515],"nice":false,"zero":false},
"axis":{"orient":"right","values":[0.5,0.75,1,1.25,1.5,1.75,2,2.25,2.5,2.75,3,3.25,3.5,3.75,4,4.25,4.5],"domainColor":"#111","domainWidth":1.5,"tickColor":"#111","tickSize":5,"tickWidth":1.2,
"labelExpr":"datum.value == 4.5 ? '►' : ((datum.value*2)%1==0 ? '►' + format(datum.value,'.2f') : '')","labelFontSize":14,"labelColor":"#222","labelPadding":-5,"labelAlign":"left","labelBaseline":"middle","labelOverlap":false,"labelFlush":false,"labelBound":false,
"grid":true,"gridColor":"#a6a6a6","gridDash":[3,3],"gridWidth":1,"gridOpacity":{"condition":{"test":"(datum.value*2)%1==0","value":1},"value":0},
"title":"09-Apr-2026 10:21:36","titleAngle":0,"titleX":147,"titleY":603,"titleAlign":"right","titleBaseline":"middle","titleFontSize":10,"titleFontWeight":"normal","titleColor":"#222"}}
},
"layer":[
{"mark":{"type":"line","strokeWidth":2.8,"interpolate":"linear"},
"encoding":{"color":{"field":"s","type":"nominal","scale":{"domain":["USD","EUR","GBP"],"range":["#5b84da","#08aa8c","#2b2b2b"]},
"legend":{"orient":"none","legendX":12,"legendY":4,"title":"Mid Price","titleFontSize":14.5,"titleFontWeight":"normal","titleColor":"#222","titleAnchor":"middle","titlePadding":6,
"symbolType":"square","symbolSize":196,"symbolStrokeWidth":0,"symbolOpacity":1,"labelFontSize":15,"labelColor":"#222","labelOffset":7,"labelLimit":500,"rowPadding":6,"padding":13,
"fillColor":"#f0f0f0","strokeColor":"#333","cornerRadius":4,
"encode":{"symbols":{"update":{"fill":{"scale":"color","field":"value"},"fillOpacity":{"value":1},"strokeWidth":{"value":0}}}},
"labelExpr":"datum.label == 'USD' ? 'USD Inflation Swap Forward 5Y5Y\u00a0\u00a02.352\u00a0' : (datum.label == 'EUR' ? 'EUR Inflation Swap Forward 5Y5Y\u00a0\u00a02.1201\u00a0' : 'GBP Inflation Swap Forward 5Y5Y\u00a0\u00a03.1118\u00a0')"}}}},
{"transform":[{"filter":"isValid(datum.lbl)"}],
"mark":{"type":"point","filled":true,"opacity":1,"shape":"M-1,0L-0.88,-0.16L1,-0.16L1,0.16L-0.88,0.16Z","size":22500,"xOffset":104,"stroke":"#1a1a1a","strokeWidth":1,"strokeOpacity":1},
"encoding":{"fill":{"field":"s","type":"nominal","scale":{"domain":["USD","EUR","GBP"],"range":["#5b84da","#08aa8c","#2b2b2b"]},"legend":null}}},
{"transform":[{"filter":"isValid(datum.lbl)"}],
"mark":{"type":"text","align":"left","baseline":"middle","fontSize":14.5,"xOffset":39,"yOffset":0},
"encoding":{"text":{"field":"lbl"},"color":{"condition":{"test":"datum.s=='USD'","value":"#111"},"value":"#f2f2f2"}}}
]
}
